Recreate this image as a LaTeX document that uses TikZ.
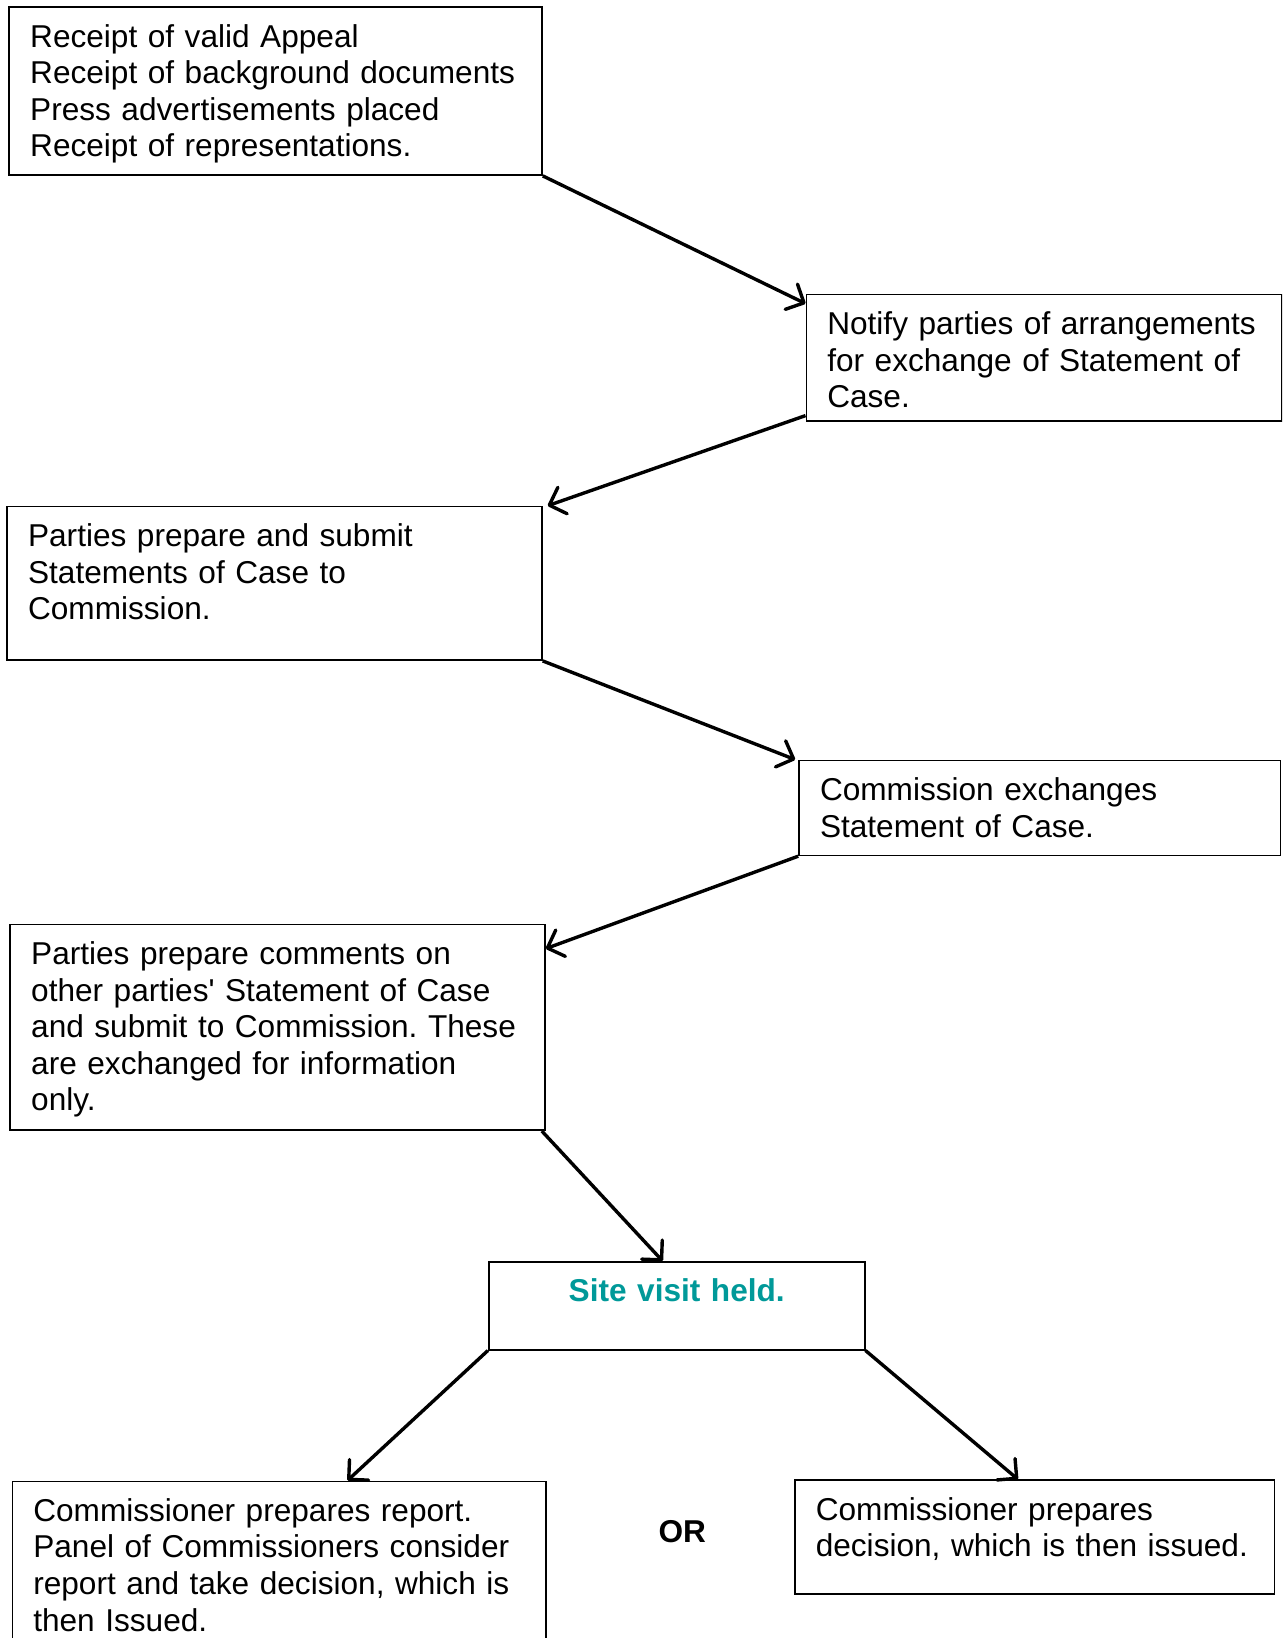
\documentclass[tikz,border=0pt]{standalone}
\usepackage{fontspec}
\setmainfont{Liberation Sans}[Ligatures=TeXOff]
\usetikzlibrary{arrows.meta}
\definecolor{siteteal}{RGB}{0,153,153}
\frenchspacing
\tikzset{
	treebox/.style = {
		rectangle,
		draw=black,
		line width=0.8pt,
		anchor=north west,
		inner xsep=10.5pt,
		inner ysep=8pt,
		text height=12pt,
		font=\fontsize{15.8pt}{18.3pt}\selectfont
	},
	node_stage/.style 2 args = {
		treebox,
		align=left,
		text width=#1,
		text depth=#2
	},
	node_site/.style 2 args = {
		treebox,
		align=center,
		siteteal,
		draw=black,
		font=\fontsize{15.8pt}{18.3pt}\selectfont\bfseries,
		text width=#1,
		text depth=#2
	},
	node_choice/.style = {
		font=\fontsize{15.8pt}{18.3pt}\selectfont\bfseries
	},
	link/.style = {
		line width=1.7pt
	}
}
\begin{document}
\begin{tikzpicture}[->,>={Straight Barb[length=7pt,width=14pt,line cap=round,line join=round]},x=0.5pt,y=-0.5pt]
\clip (0,0) rectangle (1282,1638);
\node [node_stage={245.4pt}{56pt}] (recv) at (8.4,6.3) {Receipt of valid Appeal\\Receipt of background documents\\Press advertisements placed\\Receipt of representations.};
\node [node_stage={216.7pt}{35.2pt}] (notify) at (805.5,293.6) {Notify parties of arrangements\\for exchange of Statement of\\Case.};
\node [node_stage={246.4pt}{48.8pt}] (prep) at (6.3,505.7) {Parties prepare and submit\\Statements of Case to\\Commission.};
\node [node_stage={219.8pt}{19.5pt}] (exch) at (798.2,759.6) {Commission exchanges\\Statement of Case.};
\node [node_stage={246.4pt}{74.9pt}] (comm) at (9.4,923.6) {Parties prepare comments on\\other parties' Statement of Case\\and submit to Commission. These\\are exchanged for information\\only.};
\node [node_site={167pt}{15.9pt}] (site) at (487.9,1261.1) {Site visit held.};
\node [node_stage={245.9pt}{72pt}] (report) at (11.5,1480.5) {Commissioner prepares report.\\Panel of Commissioners consider\\report and take decision, which is\\then Issued.};
\node [node_stage={218.8pt}{29pt}] (decis) at (794,1479.4) {Commissioner prepares\\decision, which is then issued.};
\node [node_choice] (choice) at (682.3,1531.7) {OR};

\draw [link] (recv.south east) -- ([yshift=-5pt]notify.north west);
\draw [link] ([yshift=3pt]notify.south west) -- ([xshift=2.5pt]prep.north east);
\draw [link] (prep.south east) -- ([xshift=-1.5pt]exch.north west);
\draw [link] (exch.south west) -- ([yshift=-12.5pt]comm.north east);
\draw [link] ([xshift=-2pt]comm.south east) -- ([xshift=-7pt]site.north);
\draw [link] (site.south west) -- ([xshift=168pt]report.north west);
\draw [link] (site.south east) -- ([xshift=112pt]decis.north west);
\end{tikzpicture}
\end{document}
